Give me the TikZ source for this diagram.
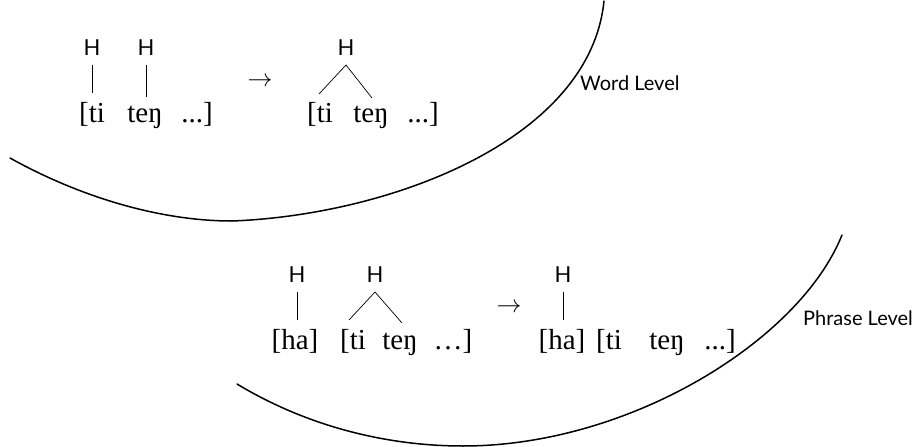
\documentclass[tikz,border=0pt]{standalone}
\usepackage{fontspec}
\setmainfont{Liberation Serif}
\newfontfamily\hsans{Lato}
\begin{document}
\begin{tikzpicture}[x=1pt,y=-1pt,
  tone/.style={inner sep=0pt,anchor=base,font=\hsans\fontsize{22}{26}\selectfont},
  seg/.style={inner sep=0pt,anchor=base,font=\fontsize{29}{33}\selectfont},
  lvl/.style={inner sep=0pt,anchor=base west,font=\hsans\fontsize{20}{24}\selectfont},
  arr/.style={inner sep=0pt,font=\fontsize{26}{30}\selectfont},
  assoc/.style={line width=0.7pt},
  arc/.style={line width=1.5pt,line cap=round}]
\useasboundingbox (0,0) rectangle (914,447);
% ---------- word level ----------
\node[tone] (h1) at (92,55) {H};
\node[tone] (h2) at (146,55) {H};
\node[seg] (s1) at (92,122) {[ti};
\node[seg] (s2) at (145,122) {teŋ};
\node[seg] (s3) at (197,122) {...]};
\node[arr] (a1) at (260,82) {$\rightarrow$};
\node[tone] (h3) at (346,55) {H};
\node[seg] (s4) at (320,122) {[ti};
\node[seg] (s5) at (371,122) {teŋ};
\node[seg] (s6) at (423,122) {...]};
\node[lvl] (w) at (580,90) {Word Level};
\coordinate (c1a) at (92,65);  \coordinate (c1b) at (92,93);
\coordinate (c2a) at (146,65); \coordinate (c2b) at (146,97);
\coordinate (c3a) at (346,65); \coordinate (c3b) at (319,94); \coordinate (c3c) at (372,98);
\draw[assoc] (c1a) -- (c1b);
\draw[assoc] (c2a) -- (c2b);
\draw[assoc] (c3b) -- (c3a) -- (c3c);
\coordinate (wa) at (10,158); \coordinate (wb) at (232,221); \coordinate (wc) at (604,1);
\draw[arc] (wa) .. controls (80,197) and (160,221) .. (wb)
                .. controls (390,215) and (590,140) .. (wc);
% ---------- phrase level ----------
\node[tone] (h4) at (297,282) {H};
\node[seg] (t1) at (295,349) {[ha]};
\node[tone] (h5) at (375,282) {H};
\node[seg] (t2) at (353,349) {[ti};
\node[seg] (t3) at (400,349) {teŋ};
\node[seg] (t4) at (453,349) {\ldots]};
\node[arr] (a2) at (509,308) {$\rightarrow$};
\node[tone] (h6) at (563,282) {H};
\node[seg] (t5) at (562,349) {[ha]};
\node[seg] (t6) at (609,349) {[ti};
\node[seg] (t7) at (667,349) {teŋ};
\node[seg] (t8) at (720,349) {...]};
\node[lvl] (p) at (803,325) {Phrase Level};
\coordinate (d1a) at (297,292); \coordinate (d1b) at (297,320);
\coordinate (d2a) at (375,292); \coordinate (d2b) at (349,320); \coordinate (d2c) at (402,323);
\coordinate (d3a) at (563,292); \coordinate (d3b) at (563,320);
\draw[assoc] (d1a) -- (d1b);
\draw[assoc] (d2b) -- (d2a) -- (d2c);
\draw[assoc] (d3a) -- (d3b);
\coordinate (pa) at (237,384); \coordinate (pb) at (463,446); \coordinate (pc) at (842,235);
\draw[arc] (pa) .. controls (310,428) and (390,446) .. (pb)
                .. controls (630,446) and (800,340) .. (pc);
\end{tikzpicture}
\end{document}
